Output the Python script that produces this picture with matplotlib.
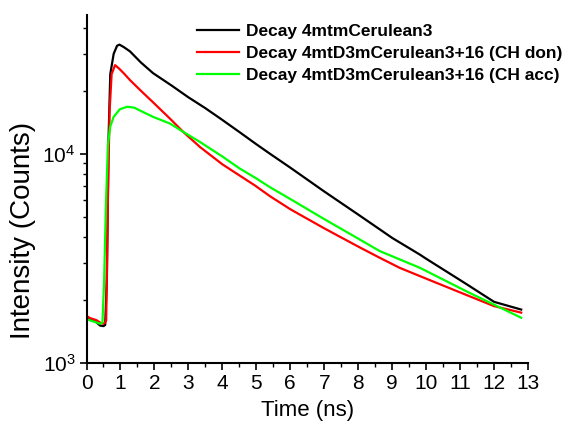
import numpy as np
import matplotlib
matplotlib.use("Agg")
import matplotlib.pyplot as plt
from matplotlib.ticker import LogLocator, MultipleLocator

plt.rcParams['font.family'] = ['Liberation Sans', 'DejaVu Sans']
plt.rcParams['mathtext.fontset'] = 'custom'
plt.rcParams['mathtext.rm'] = 'Liberation Sans'

# values (time in ns, counts)
t_black = [0, 0.1, 0.2, 0.3, 0.4, 0.5, 0.55, 0.6, 0.65, 0.7, 0.8, 0.9, 0.97,
           1.1, 1.28, 1.6, 1.96, 2.5, 3.0, 3.5, 4.0, 4.5, 5.0, 5.4, 6.0, 7.0,
           8.0, 8.63, 9.0, 9.81, 10.0, 11.0, 11.28, 12.0, 12.8]
v_black = [1650, 1620, 1600, 1560, 1510, 1500, 1520, 2500, 12000, 24000, 30000,
           32800, 33200, 32300, 30830, 27300, 24260, 21200, 18600, 16500, 14500,
           12700, 11100, 10000, 8580, 6600, 5120, 4356, 3960, 3300, 3150, 2490,
           2330, 1960, 1800]

t_red = [0, 0.1, 0.2, 0.3, 0.4, 0.5, 0.55, 0.58, 0.63, 0.68, 0.74, 0.84, 0.95,
         1.1, 1.28, 1.6, 1.96, 2.46, 2.85, 3.34, 4.0, 4.96, 5.4, 6.0, 7.0,
         8.0, 8.63, 9.22, 10.0, 11.0, 11.28, 12.0, 12.8]
v_red = [1680, 1640, 1620, 1600, 1560, 1540, 1560, 1600, 6000, 16000, 24000,
         26500, 25600, 24200, 22480, 20000, 17600, 14700, 12700, 10770, 8900,
         7050, 6270, 5430, 4400, 3600, 3185, 2850, 2530, 2174, 2084, 1870, 1740]

t_green = [0, 0.1, 0.2, 0.3, 0.4, 0.47, 0.52, 0.57, 0.63, 0.7, 0.8, 0.98, 1.2,
           1.4, 1.96, 2.46, 2.85, 3.34, 4.0, 4.5, 5.0, 5.4, 6.0, 7.0, 8.0, 8.63,
           9.0, 9.81, 10.0, 11.0, 11.28, 12.0, 12.8]
v_green = [1620, 1600, 1580, 1560, 1540, 1560, 2500, 5500, 11000, 13500, 15000,
           16300, 16770, 16600, 15000, 13930, 12710, 11380, 9700, 8520, 7620,
           6920, 6075, 4870, 3930, 3428, 3236, 2853, 2753, 2279, 2162, 1900, 1645]

labels = ["Decay 4mtmCerulean3",
          "Decay 4mtD3mCerulean3+16 (CH don)",
          "Decay 4mtD3mCerulean3+16 (CH acc)"]

fig = plt.figure(figsize=(5.76, 4.32), dpi=100)
ax = fig.add_axes([86.5 / 576, 1 - 363 / 432, (528 - 86.5) / 576, (363 - 15) / 432])

ax.plot(t_black, v_black, color='black', lw=1.6, label=labels[0])
ax.plot(t_red, v_red, color='#ff0000', lw=1.6, label=labels[1])
ax.plot(t_green, v_green, color='#00ff00', lw=1.6, label=labels[2])

ax.set_yscale('log')
ax.set_xlim(0, 13)
ax.set_ylim(1000, 46000)
ax.xaxis.set_major_locator(MultipleLocator(1))
ax.xaxis.set_minor_locator(MultipleLocator(0.5))
ax.yaxis.set_major_locator(LogLocator(base=10))
ax.yaxis.set_minor_locator(LogLocator(base=10, subs=np.arange(2, 10)))
ax.yaxis.set_minor_formatter(plt.NullFormatter())

for s in ['top', 'right']:
    ax.spines[s].set_visible(False)
for s in ['left', 'bottom']:
    ax.spines[s].set_linewidth(1.5)
ax.tick_params(which='major', length=5, width=1.2, labelsize=15, pad=3)
ax.tick_params(which='minor', length=3, width=1.0)

ax.set_xlabel("Time (ns)", fontsize=16, labelpad=5)
ax.set_ylabel("Intensity (Counts)", fontsize=20)
ax.yaxis.set_label_coords(-0.114, 0.382)

ax.legend(loc='upper left', bbox_to_anchor=(197 / 576, 1 - 24 / 432),
          bbox_transform=fig.transFigure, frameon=False, borderpad=0,
          borderaxespad=0, handlelength=2.4, handletextpad=0.4,
          labelspacing=0.38, prop={'weight': 'bold', 'size': 12.5})

fig.savefig("out.png", dpi=100)
